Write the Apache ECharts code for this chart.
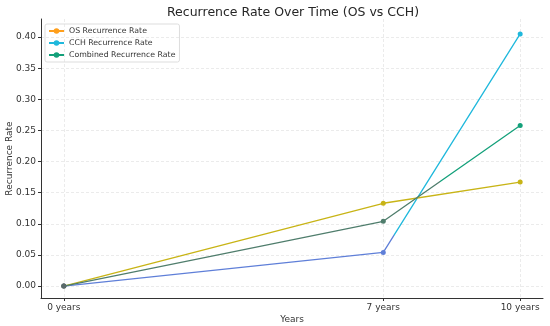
<!DOCTYPE html>
<html><head><meta charset="utf-8">
<script src="https://cdn.jsdelivr.net/npm/echarts@6/dist/echarts.min.js"></script>
<style>html,body{margin:0;padding:0;background:#fff}#c{width:550px;height:326px}</style>
</head><body><div id="c"></div>
<script>
const years = [0, 7, 10];
const yearLabels = ['0 years', '7 years', '10 years'];
const osRate = [0, 0.133, 0.167];
const cchRate = [0, 0.054, 0.405];
const combinedRate = [0, 0.104, 0.258];
const yTicks = [0, 0.05, 0.10, 0.15, 0.20, 0.25, 0.30, 0.35, 0.40];

const font = 'DejaVu Sans';
const pairs = arr => years.map((x, i) => [x, arr[i]]);
const grad = (c1, c2, s) => new echarts.graphic.LinearGradient(0, 0, 1, 0, [
  {offset: 0, color: c1}, {offset: s, color: c1}, {offset: s, color: c2}, {offset: 1, color: c2}]);
const ptColor = cols => p => cols[p.dataIndex];
const chart = echarts.init(document.getElementById('c'), null, {renderer: 'canvas'});
chart.setOption({
  animation: false,
  textStyle: {fontFamily: font},
  title: {text: 'Recurrence Rate Over Time (OS vs CCH)', left: 288, top: 1, textAlign: 'center',
    textStyle: {fontFamily: font, fontSize: 12.5, fontWeight: 'normal', color: '#262626'}},
  legend: {left: 45, top: 24, orient: 'vertical', itemGap: 4, itemWidth: 15, itemHeight: 7,
    padding: [3, 4, 3, 3], borderColor: '#dddddd', borderWidth: 1, borderRadius: 2,
    textStyle: {fontSize: 7.8, color: '#333'},
    data: [
      {name: 'OS Recurrence Rate', itemStyle: {color: '#ff9f1c'}, lineStyle: {color: '#ff9f1c'}},
      {name: 'CCH Recurrence Rate', itemStyle: {color: '#1fb8dc'}, lineStyle: {color: '#1fb8dc'}},
      {name: 'Combined Recurrence Rate', itemStyle: {color: '#13a07a'}, lineStyle: {color: '#13a07a'}}
    ]},
  grid: {left: 41, right: 7, top: 19, bottom: 28, containLabel: false, outerBoundsMode: 'none'},
  xAxis: {type: 'value', min: -0.5, max: 10.5, name: 'Years', nameLocation: 'middle', nameGap: 17,
    nameMoveOverlap: false,
    nameTextStyle: {fontSize: 9, color: '#333'},
    axisLine: {onZero: false, lineStyle: {color: '#333', width: 1}},
    axisTick: {show: true, customValues: years, length: 3, lineStyle: {color: '#333'}},
    axisLabel: {customValues: years, formatter: v => yearLabels[years.indexOf(v)], fontSize: 9, color: '#333', margin: 5},
    splitLine: {show: true, lineStyle: {color: '#e6e6e6', type: [3, 2], width: 0.8}}},
  yAxis: {type: 'value', min: -0.0192, max: 0.429, name: 'Recurrence Rate', nameLocation: 'middle', nameGap: 27,
    nameMoveOverlap: false,
    nameTextStyle: {fontSize: 9, color: '#333'},
    axisLine: {show: true, onZero: false, lineStyle: {color: '#333', width: 1}},
    axisTick: {show: true, customValues: yTicks, length: 3, lineStyle: {color: '#333'}},
    axisLabel: {customValues: yTicks, formatter: v => v.toFixed(2), fontSize: 9, color: '#333', margin: 5},
    splitLine: {show: true, lineStyle: {color: '#e6e6e6', type: [3, 2], width: 0.8}}},
  series: [
    {name: 'OS Recurrence Rate', type: 'line', data: pairs(osRate), symbol: 'circle', symbolSize: 5,
      itemStyle: {color: ptColor(['#5a6a6a', '#c8b416', '#c8b416'])},
      lineStyle: {width: 1.3, color: '#c8b416'}, z: 3},
    {name: 'CCH Recurrence Rate', type: 'line', data: pairs(cchRate), symbol: 'circle', symbolSize: 5,
      itemStyle: {color: ptColor(['#5a6a6a', '#5f7fd8', '#1fb8dc'])},
      lineStyle: {width: 1.3, color: grad('#5f7fd8', '#1fb8dc', 0.72)}, z: 2},
    {name: 'Combined Recurrence Rate', type: 'line', data: pairs(combinedRate), symbol: 'circle', symbolSize: 5,
      itemStyle: {color: ptColor(['#5a6a6a', '#4f7d6c', '#13a07a'])},
      lineStyle: {width: 1.3, color: grad('#4f7d6c', '#13a07a', 0.82)}, z: 4}
  ]
});
</script></body></html>
